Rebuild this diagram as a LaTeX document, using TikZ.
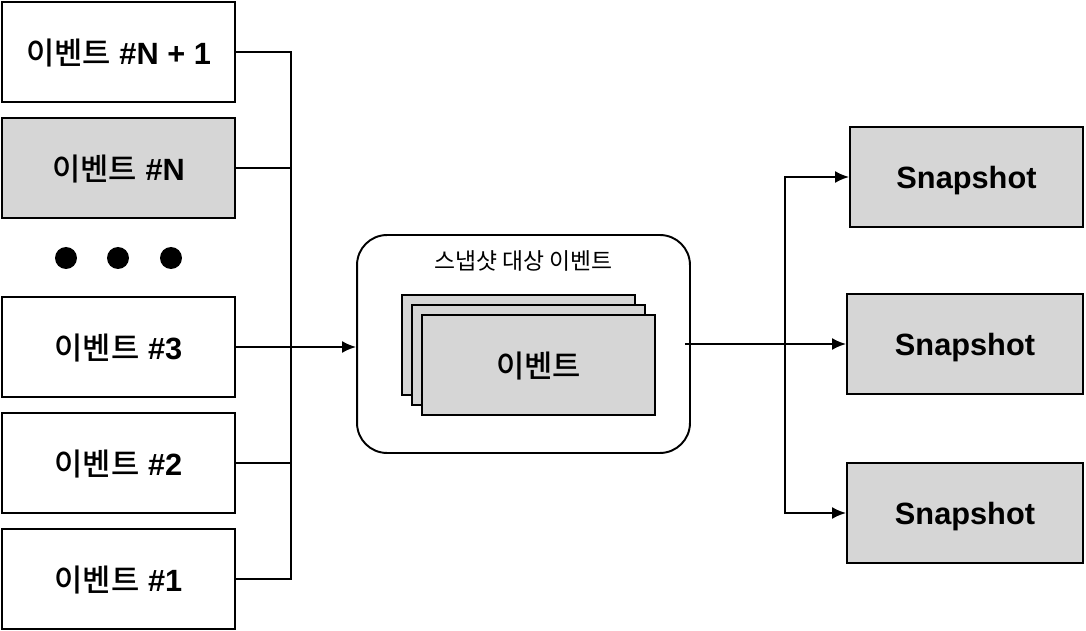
\documentclass[tikz,border=0pt]{standalone}
\usepackage{fontspec}
\setmainfont{Liberation Sans}
\newfontfamily\kr{Noto Sans CJK KR}[BoldFont={Noto Sans CJK KR Medium}]
\usetikzlibrary{positioning, arrows.meta}
\definecolor{boxgray}{RGB}{214,214,214}
\newcommand{\evt}{{\kr 이벤트}}

\begin{document}
\begin{tikzpicture}[x=0.02cm, y=-0.02cm, node distance=0.28cm, line width=1.1pt,
    >={Latex[length=0.28cm, width=0.24cm]},
    evbox/.style={draw, minimum width=4.66cm, minimum height=2cm, inner sep=0pt, text depth=0pt, font=\bfseries\fontsize{17.5}{20}\selectfont},
    snapbox/.style={evbox, fill=boxgray, minimum width=4.72cm}]
    \useasboundingbox (0,0) rectangle (1086,631);

    % left column of events
    \node[evbox] (evN1) at (118.5,52) {\evt{} \#N + 1};
    \node[evbox, fill=boxgray, below=of evN1] (evN) {\evt{} \#N};
    \foreach \x in {66,118,171}
      \fill (\x,258) circle (0.22cm);
    \node[evbox] (ev3) at (118.5,347) {\evt{} \#3};
    \node[evbox, below=of ev3] (ev2) {\evt{} \#2};
    \node[evbox, below=of ev2] (ev1) {\evt{} \#1};

    % snapshot target
    \node[draw, rounded corners=0.6cm, minimum width=6.66cm, minimum height=4.36cm] (target) at (523.5,344) {};
    \node[below=0.2cm of target.north, font=\kr\fontsize{13}{15}\selectfont] (tlabel) {스냅샷 대상 이벤트};
    \node[evbox, fill=boxgray] (stack1) at (518.5,345) {};
    \node[evbox, fill=boxgray] (stack2) at (528.5,355) {};
    \node[evbox, fill=boxgray] (stack3) at (538.5,365) {\evt};

    % snapshots
    \node[snapbox, minimum width=4.66cm] (snap1) at (966.5,177) {Snapshot};
    \node[snapbox] (snap2) at (965,344) {Snapshot};
    \node[snapbox] (snap3) at (965,513) {Snapshot};

    % left bus
    \coordinate (lbus) at (291,0);
    \draw (evN1.east) -| (lbus |- ev1.east) -- (ev1.east);
    \draw (evN.east) -- (evN.east -| lbus);
    \draw (ev2.east) -- (ev2.east -| lbus);
    \draw[->] (ev3.east) -- (target.west |- ev3.east);

    % right bus
    \coordinate (rbus) at (785,0);
    \draw[->] ([xshift=-0.12cm]target.east) -- (snap2.west);
    \draw[->] (rbus |- snap2.west) |- (snap1.west);
    \draw[->] (rbus |- snap2.west) |- (snap3.west);
  \end{tikzpicture}
\end{document}
